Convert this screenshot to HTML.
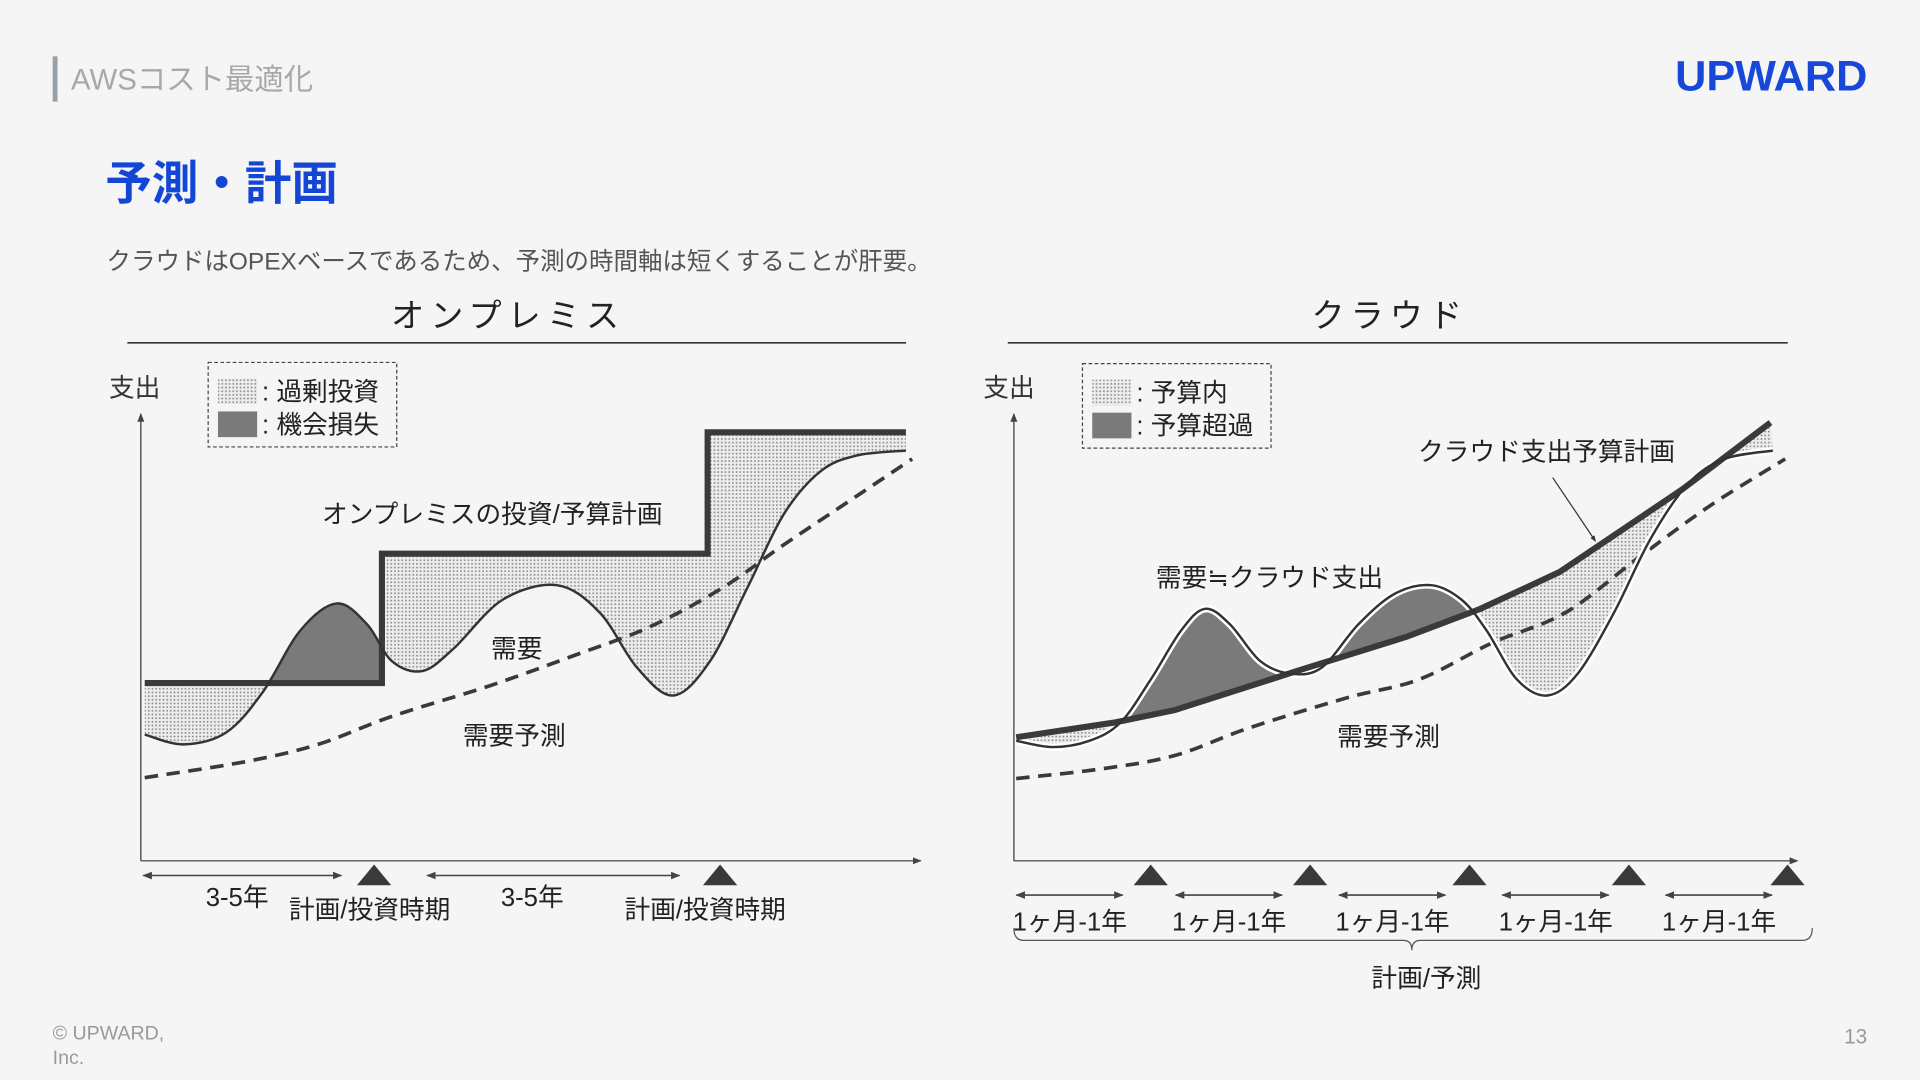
<!DOCTYPE html>
<html><head><meta charset="utf-8">
<style>
html,body{margin:0;padding:0;background:#f5f5f5;}
body{width:1920px;height:1080px;overflow:hidden;}
svg{display:block;}
text{font-family:"Liberation Sans","Noto Sans CJK JP",sans-serif;}
</style></head>
<body>
<svg id="root" width="1920" height="1080" viewBox="0 0 1568 882" xmlns="http://www.w3.org/2000/svg">
<defs>
<pattern id="dots" width="3" height="3" patternUnits="userSpaceOnUse">
<rect width="3" height="3" fill="#ececec"/><circle cx="1.5" cy="1.5" r="0.75" fill="#8a8a8a"/>
</pattern>
<marker id="arr" viewBox="0 0 10 10" refX="9" refY="5" markerWidth="6" markerHeight="6" orient="auto-start-reverse"><path d="M0,1 L10,5 L0,9 z" fill="#444"/></marker>
<marker id="arrS" viewBox="0 0 10 10" refX="9" refY="5" markerWidth="5" markerHeight="5" orient="auto-start-reverse"><path d="M0,1 L10,5 L0,9 z" fill="#333"/></marker>
</defs>
<rect width="1568" height="882" fill="#f5f5f5"/>
<rect x="43" y="46" width="4" height="37" fill="#9aa0a8"/>
<text x="58" y="73" font-size="24" fill="#a8a8a8">AWSコスト最適化</text>
<text x="1368" y="74" font-size="35" font-weight="bold" fill="#1848d8" textLength="157" lengthAdjust="spacingAndGlyphs">UPWARD</text>
<text x="86" y="163" font-size="38" font-weight="bold" fill="#1446d6">予測・計画</text>
<text x="87" y="220" font-size="20" fill="#555">クラウドはOPEXベースであるため、予測の時間軸は短くすることが肝要。</text>

<text x="415" y="267" font-size="27" text-anchor="middle" letter-spacing="5" fill="#222">オンプレミス</text>
<line x1="104" y1="280" x2="740" y2="280" stroke="#333" stroke-width="1.3"/>
<text x="1135" y="267" font-size="27" text-anchor="middle" letter-spacing="5" fill="#222">クラウド</text>
<line x1="823" y1="280" x2="1460" y2="280" stroke="#333" stroke-width="1.3"/>

<g id="left"></g>
<g id="right"></g>

<text x="89" y="324" font-size="21" fill="#333">支出</text>
<g>
<rect x="170" y="296" width="154" height="69" fill="none" stroke="#444" stroke-dasharray="3,2"/>
<rect x="178" y="309" width="32" height="21" fill="url(#dots)"/>
<text x="214" y="327" font-size="21" fill="#222">: 過剰投資</text>
<rect x="178" y="336" width="32" height="21" fill="#7a7a7a"/>
<text x="214" y="354" font-size="21" fill="#222">: 機会損失</text>
</g>
<text x="263" y="427" font-size="21" fill="#222">オンプレミスの投資/予算計画</text>
<text x="401" y="537" font-size="21" fill="#222">需要</text>
<text x="378" y="608" font-size="21" fill="#222">需要予測</text>
<text x="168" y="740" font-size="21" fill="#222">3-5年</text>
<text x="236" y="750" font-size="21" fill="#222">計画/投資時期</text>
<text x="409" y="740" font-size="21" fill="#222">3-5年</text>
<text x="510" y="750" font-size="21" fill="#222">計画/投資時期</text>

<text x="803" y="324" font-size="21" fill="#333">支出</text>
<g>
<rect x="884" y="297" width="154" height="69" fill="none" stroke="#444" stroke-dasharray="3,2"/>
<rect x="892" y="310" width="32" height="21" fill="url(#dots)"/>
<text x="928" y="328" font-size="21" fill="#222">: 予算内</text>
<rect x="892" y="337" width="32" height="21" fill="#7a7a7a"/>
<text x="928" y="355" font-size="21" fill="#222">: 予算超過</text>
</g>
<text x="1158" y="376" font-size="21" fill="#222">クラウド支出予算計画</text>
<line x1="1268" y1="390" x2="1303" y2="442" stroke="#333" stroke-width="1" marker-end="url(#arrS)"/>
<text x="944" y="479" font-size="21" fill="#222">需要≒クラウド支出</text>
<text x="1092" y="609" font-size="21" fill="#222">需要予測</text>
<path d="M828,758 Q828,768 836,768 L1146,768 Q1153,768 1153,776 Q1153,768 1160,768 L1472,768 Q1480,768 1480,758" fill="none" stroke="#555" stroke-width="1"/>
<text x="1120" y="806" font-size="21" fill="#222">計画/予測</text>

<text x="43" y="849" font-size="16" fill="#999">© UPWARD,</text>
<text x="43" y="869" font-size="16" fill="#999">Inc.</text>
<text x="1506" y="852" font-size="17" fill="#999">13</text>
</svg>
<script>
const leftDemandX = [0.5,5.5,11,15.7,20.5,25.2,29.1,32.3,36.2,40.2,46.5,53.5,59,63.8,68.5,73.2,78,82.7,87.4,92.1,98.4];
const leftDemandY = [28.4,26.2,28.9,38,51.8,57.9,53.2,44.9,42.7,47.7,58.7,62,55.9,43.5,37.2,44.9,61.4,78,87.6,91.2,92.3];
const leftBudgetBreaks = [0.5,31,72.9,98.4];
const leftBudgetLevels = [40,69.1,96.4];
const leftForecastX = [0.5,13.4,22.8,32.3,44.9,55.9,65.4,74.8,82.7,92.1,99.2];
const leftForecastY = [18.7,22.3,26.2,32.5,39.4,46.3,52.6,61.4,71.1,82.1,90.4];
const leftMilestones = [30,74.5];
const rightDemandX = [0.3,5,9.7,13.7,17.6,21.5,24.6,27.8,31.7,35.6,39.6,44.3,49,53.7,57.6,60.8,64.7,68.6,72.5,77.2,81.9,86.7,91.4,97.6];
const rightDemandY = [27,25.6,27,31.1,40.8,51.8,56.7,53.2,44.9,42.1,43.5,53.2,60.1,62,58.7,51.8,40.8,37.2,42.1,55.9,72.5,84.8,90.4,92.3];
const rightBudgetX = [0.3,12.9,20.7,36.4,50.5,60,70.2,85.9,97.3];
const rightBudgetY = [27.8,31.1,33.9,42.7,50.4,56.7,65,83.5,98.6];
const rightForecastX = [0.3,11.3,20.7,30.1,42.7,52.1,61.5,71,80.4,89.8,99.2];
const rightForecastY = [18.5,20.7,23.7,29.8,36.6,40.8,49,55.9,68.3,80.2,90.4];
const rightMilestones = [17.6,38.1,58.6,79.1,99.5];
const rightPeriods = [[0,14],[20.5,34.5],[41.5,55.5],[62.5,76.5],[83.5,97.5]];
const rightPeriodLabels = ["1ヶ月-1年","1ヶ月-1年","1ヶ月-1年","1ヶ月-1年","1ヶ月-1年"];

const NS="http://www.w3.org/2000/svg";
function mk(parent,tag,attrs){const e=document.createElementNS(NS,tag);for(const k in attrs)e.setAttribute(k,attrs[k]);parent.appendChild(e);return e;}
function axes(x0){
  const xs=v=>x0+v*6.35, ys=v=>703-v*3.63;
  return {xs,ys};
}
function smooth(pts){
  let d="M"+pts[0][0].toFixed(1)+","+pts[0][1].toFixed(1);
  for(let i=0;i<pts.length-1;i++){
    const p0=pts[i-1]||pts[i],p1=pts[i],p2=pts[i+1],p3=pts[i+2]||p2;
    const c1=[p1[0]+(p2[0]-p0[0])/6,p1[1]+(p2[1]-p0[1])/6];
    const c2=[p2[0]-(p3[0]-p1[0])/6,p2[1]-(p3[1]-p1[1])/6];
    d+=" C"+c1.map(n=>n.toFixed(1))+" "+c2.map(n=>n.toFixed(1))+" "+p2.map(n=>n.toFixed(1));
  }
  return d;
}
function poly(pts){return "M"+pts.map(p=>p[0].toFixed(1)+","+p[1].toFixed(1)).join(" L");}

function drawChart(g,id,x0,xEnd,demX,demY,budPts,fX,fY,miles,periods,pLabels,budgetWidth,halo){
  const {xs,ys}=axes(x0);
  const dem=demX.map((x,i)=>[xs(x),ys(demY[i])]);
  const bud=budPts.map(p=>[xs(p[0]),ys(p[1])]);
  const fc=fX.map((x,i)=>[xs(x),ys(fY[i])]);
  const demRev=smooth(dem.slice().reverse()).replace(/^M/,"L");
  const area=poly(bud)+" "+demRev+" Z";
  const first=bud[0],last=bud[bud.length-1];
  const below=poly(bud)+" L"+(last[0]+20)+","+last[1]+" L"+(last[0]+20)+",720 L"+(first[0]-20)+",720 L"+(first[0]-20)+","+first[1]+" Z";
  const above=poly(bud)+" L"+(last[0]+20)+","+last[1]+" L"+(last[0]+20)+",300 L"+(first[0]-20)+",300 L"+(first[0]-20)+","+first[1]+" Z";
  const defs=mk(g,"defs",{});
  const cb=mk(defs,"clipPath",{id:id+"below"});mk(cb,"path",{d:below});
  const ca=mk(defs,"clipPath",{id:id+"above"});mk(ca,"path",{d:above});
  const a1=mk(g,"path",{d:area,fill:"url(#dots)","clip-path":"url(#"+id+"below)"});
  
  
  const a2=mk(g,"path",{d:area,fill:"#7a7a7a","clip-path":"url(#"+id+"above)"});
  
  
  const ya=mk(g,"line",{x1:x0,y1:703,x2:x0,y2:338,stroke:"#555","stroke-width":1.2,"marker-end":"url(#arr)"});
  
  
  const xa=mk(g,"line",{x1:x0,y1:703,x2:xEnd,y2:703,stroke:"#555","stroke-width":1.2,"marker-end":"url(#arr)"});
  
  
  const fl=mk(g,"path",{d:smooth(fc),fill:"none",stroke:"#3a3a3a","stroke-width":3,"stroke-dasharray":"11,7"});
  
  
  if(halo){const h=mk(g,"path",{d:smooth(dem),fill:"none",stroke:"#fff","stroke-width":6});
    
    }
  const bl=mk(g,"path",{d:poly(bud),fill:"none",stroke:"#3a3a3a","stroke-width":budgetWidth,"stroke-linejoin":"miter"});
  
  
  const dl=mk(g,"path",{d:smooth(dem),fill:"none",stroke:"#333","stroke-width":2});
  
  
  miles.forEach(m=>{const cx=xs(m);
    const t=mk(g,"path",{d:"M"+(cx-14)+",723 L"+cx+",706 L"+(cx+14)+",723 Z",fill:"#3a3a3a"});
    
    });
  periods.forEach((p,i)=>{
    const y=id==="L"?715:731;
    const l=mk(g,"line",{x1:xs(p[0])+2,y1:y,x2:xs(p[1]),y2:y,stroke:"#444","stroke-width":1.3,"marker-start":"url(#arr)","marker-end":"url(#arr)"});
    
    
    if(pLabels){const t=mk(g,"text",{x:xs(p[0])-1,y:760,"font-size":21,fill:"#222"});t.textContent=pLabels[i];
      
      }
  });
}
const leftBud=[];
leftBudgetLevels.forEach((lv,i)=>{leftBud.push([leftBudgetBreaks[i],lv]);leftBud.push([leftBudgetBreaks[i+1],lv]);});
drawChart(document.getElementById("left"),"L",115,752,leftDemandX,leftDemandY,leftBud,leftForecastX,leftForecastY,leftMilestones,[[0,25.8],[36.5,69.3]],null,5,false);
const rightBud=rightBudgetX.map((x,i)=>[x,rightBudgetY[i]]);
drawChart(document.getElementById("right"),"R",828,1468,rightDemandX,rightDemandY,rightBud,rightForecastX,rightForecastY,rightMilestones,rightPeriods,rightPeriodLabels,5,true);
</script>
</body></html>
